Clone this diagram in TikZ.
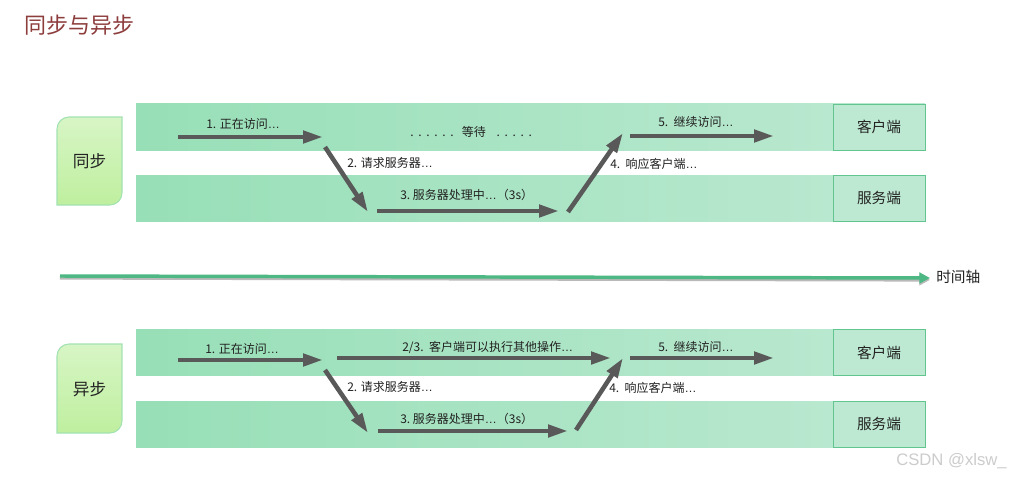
\documentclass[tikz,border=0pt]{standalone}
\usepackage{fontspec}
\setmainfont{Noto Sans CJK SC}
\newfontfamily\latinfont{Liberation Sans}
\newcommand{\dts}{{\latinfont …}}
\usetikzlibrary{arrows.meta,shadings}
\definecolor{bandL}{HTML}{97DFB7}
\definecolor{bandR}{HTML}{BDE9D2}
\definecolor{boxfill}{HTML}{BDE9D2}
\definecolor{boxline}{HTML}{62C48F}
\definecolor{tabtop}{HTML}{D7F5C5}
\definecolor{tabbot}{HTML}{BFEF9F}
\definecolor{tabline}{HTML}{A3E2B2}
\definecolor{arr}{HTML}{595959}
\definecolor{axis}{HTML}{4DB883}
\definecolor{titlec}{HTML}{8E3D3D}
\definecolor{txt}{HTML}{222222}
\tikzset{
  band/.style={left color=bandL,right color=bandR,draw=none},
  rolebox/.style={draw=boxline,line width=0.7pt,fill=boxfill,minimum width=69pt,minimum height=34.5pt,inner sep=0pt,font=\fontsize{11}{12}\selectfont,text=txt},
  flow/.style={draw=arr,line width=3.4pt,-{Triangle[length=15pt,width=9pt]}},
  lbl/.style={font=\fontsize{9}{10}\selectfont,text=txt,inner sep=0pt,anchor=west},
  tablbl/.style={font=\fontsize{12.5}{14}\selectfont,text=txt,inner sep=0pt},
}
\begin{document}
\begin{tikzpicture}[x=0.75pt,y=-0.75pt]
\useasboundingbox (0,0) rectangle (1011,479);
\fill[white] (0,0) rectangle (1011,479);
\node[font=\fontsize{16.5}{18}\selectfont,text=titlec,anchor=west,inner sep=0pt] (title) at (24,25) {同步与异步};

% ---------- sync ----------
\shade[band] (136,103) rectangle (925,150);
\shade[band] (136,175) rectangle (925,221);
\shade[top color=tabtop,bottom color=tabbot,draw=tabline,line width=0.8pt]
  (57,205) -- (57,129) .. controls (57,122.4) and (62.4,117) .. (69,117) -- (122,117) -- (122,193) .. controls (122,199.6) and (116.6,205) .. (110,205) -- cycle;
\node[tablbl] (tab1) at (89.5,161) {同步};
\node[rolebox] (c1) at (879,127) {客户端};
\node[rolebox] (s1) at (879,198) {服务端};

\coordinate (a1s) at (178,137); \coordinate (a1e) at (323,137);
\coordinate (a2s) at (325,147); \coordinate (a2e) at (368,212);
\coordinate (a3s) at (377,211); \coordinate (a3e) at (559,211);
\coordinate (a4s) at (568,212); \coordinate (a4e) at (623,133);
\coordinate (a5s) at (630,136); \coordinate (a5e) at (774,136);
\draw[flow] (a1s) -- (a1e);
\draw[flow] (a2s) -- (a2e);
\draw[flow] (a3s) -- (a3e);
\draw[flow] (a4s) -- (a4e);
\draw[flow] (a5s) -- (a5e);
\node[lbl] (l1) at (206,124) {1. 正在访问\dts};
\node[lbl] (lw) at (410,132) {.\ \,.\ \,.\ \,.\ \,.\ \,.\ \ \ 等待\ \ \ \ .\ \,.\ \,.\ \,.\ \,.};
\node[lbl] (l2) at (347,163) {2. 请求服务器\dts};
\node[lbl] (l3) at (400,195) {3.\ 服务器处理中\dts（3s）};
\node[lbl] (l4) at (610,164) {4.\ \ 响应客户端\dts};
\node[lbl] (l5) at (658,122) {5.\ \ 继续访问\dts};

% ---------- time axis ----------
\coordinate (t0) at (60,276); \coordinate (t1) at (930,278);
\draw[draw=gray!55,line width=2.6pt,-{Triangle[length=8pt,width=8pt]}] ([yshift=-1.4pt]t0) -- ([yshift=-1.4pt]t1);
\draw[draw=axis,line width=2.6pt,-{Triangle[length=8pt,width=8pt]}] (t0) -- (t1);
\node[font=\fontsize{11}{12}\selectfont,text=txt,anchor=west,inner sep=0pt] (tl) at (936,277) {时间轴};

% ---------- async ----------
\shade[band] (136,329) rectangle (925,375);
\shade[band] (136,401) rectangle (925,447);
\shade[top color=tabtop,bottom color=tabbot,draw=tabline,line width=0.8pt]
  (57,433) -- (57,356) .. controls (57,349.4) and (62.4,344) .. (69,344) -- (122,344) -- (122,421) .. controls (122,427.6) and (116.6,433) .. (110,433) -- cycle;
\node[tablbl] (tab2) at (89.5,389) {异步};
\node[rolebox] (c2) at (879,352.5) {客户端};
\node[rolebox] (s2) at (879,424) {服务端};

\coordinate (b1s) at (178,360); \coordinate (b1e) at (323,360);
\coordinate (b6s) at (337,358); \coordinate (b6e) at (611,358);
\coordinate (b2s) at (325,370); \coordinate (b2e) at (368,433);
\coordinate (b3s) at (378,431); \coordinate (b3e) at (568,431);
\coordinate (b4s) at (576,430); \coordinate (b4e) at (623,358);
\coordinate (b5s) at (630,358); \coordinate (b5e) at (774,358);
\draw[flow] (b1s) -- (b1e);
\draw[flow] (b6s) -- (b6e);
\draw[flow] (b2s) -- (b2e);
\draw[flow] (b3s) -- (b3e);
\draw[flow] (b4s) -- (b4e);
\draw[flow] (b5s) -- (b5e);
\node[lbl] (m1) at (205,349) {1. 正在访问\dts};
\node[lbl] (m6) at (402,347) {2/3.\ \ 客户端可以执行其他操作\dts};
\node[lbl] (m2) at (347,387) {2. 请求服务器\dts};
\node[lbl] (m3) at (400,419) {3.\ 服务器处理中\dts（3s）};
\node[lbl] (m4) at (609,388) {4.\ \ 响应客户端\dts};
\node[lbl] (m5) at (658,347) {5.\ \ 继续访问\dts};

\node[font=\latinfont\fontsize{12.5}{14}\selectfont,text=gray!40,anchor=east,inner sep=0pt] (wm) at (1007,461) {CSDN @xlsw\_};
\end{tikzpicture}
\end{document}
